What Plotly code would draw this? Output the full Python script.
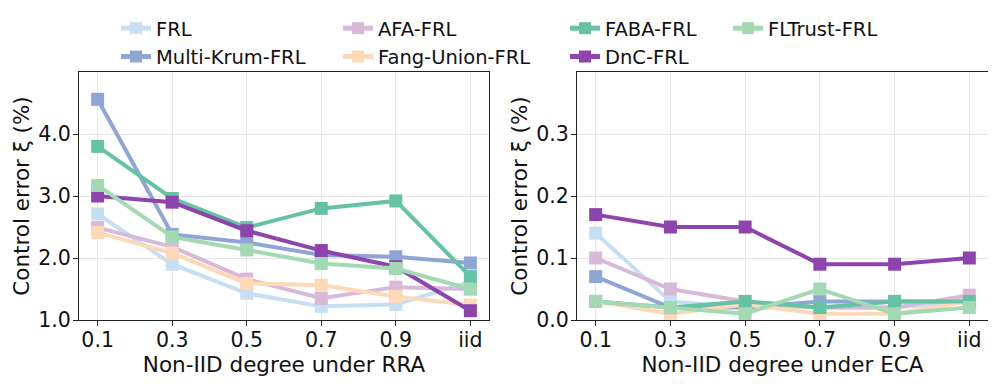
import plotly.graph_objects as go

categories = ["0.1", "0.3", "0.5", "0.7", "0.9", "iid"]
methods = ["FRL", "Multi-Krum-FRL", "AFA-FRL", "Fang-Union-FRL", "FABA-FRL", "DnC-FRL", "FLTrust-FRL"]
colors = ["#c6dff3", "#8fa5d3", "#d9b9d8", "#fdd9b8", "#66c2a5", "#8e44ad", "#a3dab4"]

rra_frl = [2.71, 1.90, 1.43, 1.22, 1.25, 1.62]
rra_multikrum = [4.56, 2.38, 2.25, 2.05, 2.02, 1.92]
rra_afa = [2.49, 2.18, 1.66, 1.35, 1.53, 1.50]
rra_fang = [2.41, 2.08, 1.59, 1.56, 1.38, 1.24]
rra_faba = [3.80, 2.96, 2.49, 2.80, 2.92, 1.70]
rra_dnc = [3.00, 2.90, 2.44, 2.12, 1.86, 1.15]
rra_fltrust = [3.17, 2.34, 2.13, 1.91, 1.83, 1.50]

eca_frl = [0.14, 0.03, 0.02, 0.02, 0.02, 0.03]
eca_multikrum = [0.07, 0.02, 0.02, 0.03, 0.03, 0.03]
eca_afa = [0.10, 0.05, 0.03, 0.02, 0.02, 0.04]
eca_fang = [0.03, 0.01, 0.025, 0.01, 0.01, 0.03]
eca_faba = [0.03, 0.02, 0.03, 0.02, 0.03, 0.03]
eca_dnc = [0.17, 0.15, 0.15, 0.09, 0.09, 0.10]
eca_fltrust = [0.03, 0.02, 0.01, 0.05, 0.01, 0.02]

rra = [rra_frl, rra_multikrum, rra_afa, rra_fang, rra_faba, rra_dnc, rra_fltrust]
eca = [eca_frl, eca_multikrum, eca_afa, eca_fang, eca_faba, eca_dnc, eca_fltrust]

left_ticks = [1.0, 2.0, 3.0, 4.0]
right_ticks = [0.0, 0.1, 0.2, 0.3]

# legend column assignment (matplotlib ncol=4 column-major)
legend_ids = ["legend", "legend", "legend2", "legend2", "legend3", "legend3", "legend4"]

# page has an 8px body margin; figure sized to fit the window
OFF = 8
W, H = 988, 378
fig = go.Figure()
for i, m in enumerate(methods):
    fig.add_trace(go.Scatter(
        x=categories, y=rra[i], name=m, mode="lines+markers",
        line=dict(color=colors[i], width=4),
        marker=dict(symbol="square", size=13, color=colors[i]),
        xaxis="x", yaxis="y", legend=legend_ids[i], showlegend=True,
    ))
for i, m in enumerate(methods):
    fig.add_trace(go.Scatter(
        x=categories, y=eca[i], name=m, mode="lines+markers",
        line=dict(color=colors[i], width=4),
        marker=dict(symbol="square", size=13, color=colors[i]),
        xaxis="x2", yaxis="y2", showlegend=False,
    ))

def px(v):
    return (v - OFF) / W

def py(v):
    return (H - (v - OFF)) / H

axis_common = dict(
    showline=True, linecolor="#222", linewidth=1.3, mirror=True,
    ticks="outside", ticklen=5, tickwidth=1.2, tickcolor="#222",
    showgrid=True, gridcolor="#e6e6e6", gridwidth=1,
    tickfont=dict(family="DejaVu Sans", size=20.5, color="#111"),
    zeroline=False, automargin=False,
)
title_font = dict(family="DejaVu Sans", size=21.5, color="#111")

legend_common = dict(
    orientation="v", xanchor="left", yanchor="top",
    font=dict(family="DejaVu Sans", size=19.5, color="#111"),
    bgcolor="rgba(0,0,0,0)", borderwidth=0, tracegroupgap=0,
    itemsizing="constant",
)

fig.update_layout(
    width=W, height=H,
    margin=dict(l=0, r=0, t=0, b=0, autoexpand=False),
    paper_bgcolor="white", plot_bgcolor="white",
    font=dict(family="DejaVu Sans", color="#111"),
    xaxis=dict(axis_common, domain=[px(79), px(489)], type="category",
               categoryorder="array", categoryarray=categories, range=[-0.25, 5.25],
               ticklabelstandoff=-4,
               title=dict(text="Non-IID degree under RRA", font=title_font, standoff=0), anchor="y"),
    yaxis=dict(axis_common, domain=[py(320), py(72)], range=[1.0, 5.0],
               tickvals=left_ticks, tickformat=".1f", ticklabelstandoff=-2,
               title=dict(text="Control error ξ (%)", font=title_font, standoff=2), anchor="x"),
    xaxis2=dict(axis_common, domain=[px(577), px(988)], type="category",
                categoryorder="array", categoryarray=categories, range=[-0.25, 5.25],
                ticklabelstandoff=-4,
                title=dict(text="Non-IID degree under ECA", font=title_font, standoff=0), anchor="y2"),
    yaxis2=dict(axis_common, domain=[py(320), py(72)], range=[0.0, 0.4],
                tickvals=right_ticks, tickformat=".1f", ticklabelstandoff=-2,
                title=dict(text="Control error ξ (%)", font=title_font, standoff=2), anchor="x2"),
    legend=dict(legend_common, x=px(116), y=py(9)),
    legend2=dict(legend_common, x=px(338), y=py(9)),
    legend3=dict(legend_common, x=px(565), y=py(9)),
    legend4=dict(legend_common, x=px(728), y=py(9)),
    showlegend=True,
)

fig.write_html("out.html")
